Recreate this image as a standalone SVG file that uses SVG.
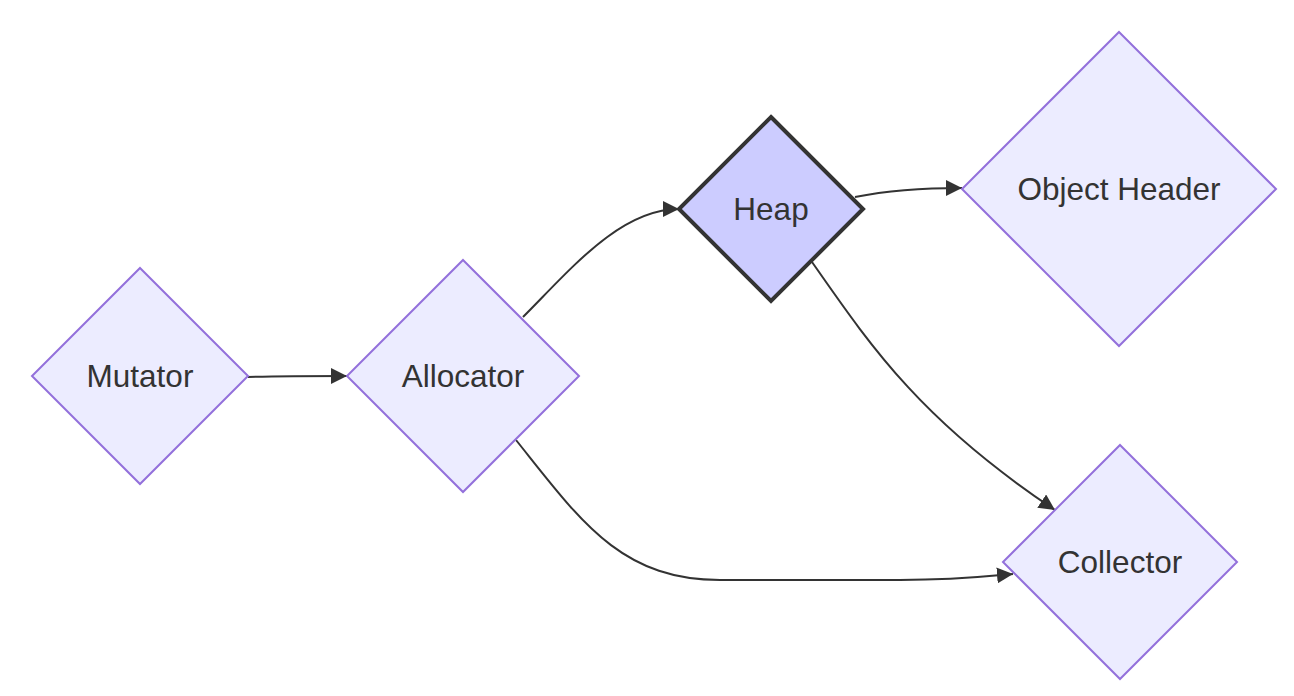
<svg xmlns="http://www.w3.org/2000/svg" width="1294" height="696" viewBox="0 0 1294 696">
<style>
.node polygon{fill:#ECECFF;stroke:#9370DB;stroke-width:2}
.node.hl polygon{fill:#CCCCFF;stroke:#333333;stroke-width:4;stroke-linejoin:miter}
.node text{font-family:"Liberation Sans",Arial,sans-serif;font-size:31.5px;fill:#333333;text-anchor:middle;dominant-baseline:central}
.edges path{fill:none;stroke:#333333;stroke-width:2}
</style>
<defs>
<marker id="arrow" markerUnits="userSpaceOnUse" markerWidth="17" markerHeight="16" refX="16" refY="8" orient="auto">
<path d="M0,0 L16,8 L0,16 z" fill="#333333"/>
</marker>
</defs>
<rect width="1294" height="696" fill="#ffffff"/>
<g class="edges">
<path d="M248,377 C280,376 310,376 347,376" marker-end="url(#arrow)"/>
<path d="M523,317 C570,270 620,209 679,209" marker-end="url(#arrow)"/>
<path d="M855,197 C890,190 920,188 962,188" marker-end="url(#arrow)"/>
<path d="M812,262 C870,345 920,420 1055,510" marker-end="url(#arrow)"/>
<path d="M516,440 C580,520 620,580 720,580 L900,580 C960,580 990,576 1013,574" marker-end="url(#arrow)"/>
</g>
<g id="mutator" class="node">
<polygon points="140,268 248,376 140,484 32,376"/>
<text x="140" y="376">Mutator</text>
</g>
<g id="allocator" class="node">
<polygon points="463,260 579,376 463,492 347,376"/>
<text x="463" y="376">Allocator</text>
</g>
<g id="heap" class="node hl">
<polygon points="771,117 863,209 771,301 679,209"/>
<text x="771" y="209">Heap</text>
</g>
<g id="objectheader" class="node">
<polygon points="1119,32 1276,189 1119,346 962,189"/>
<text x="1119" y="189">Object Header</text>
</g>
<g id="collector" class="node">
<polygon points="1120,445 1237,562 1120,679 1003,562"/>
<text x="1120" y="562">Collector</text>
</g>
</svg>
